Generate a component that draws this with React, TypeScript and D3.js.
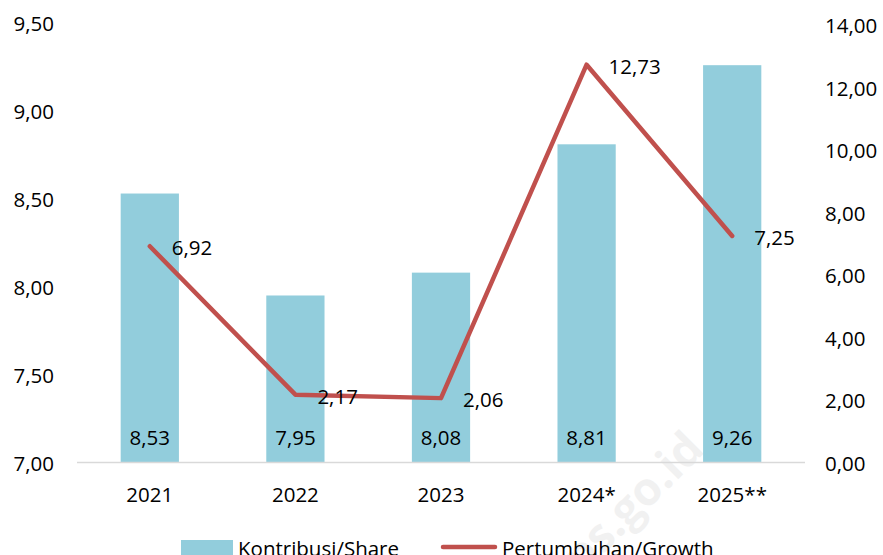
import React from "react";
import * as d3 from "d3";

const categories = ["2021", "2022", "2023", "2024*", "2025**"];
const shareValues = [8.53, 7.95, 8.08, 8.81, 9.26];
const growthValues = [6.92, 2.17, 2.06, 12.73, 7.25];
const leftTicks = [7.0, 7.5, 8.0, 8.5, 9.0, 9.5];
const rightTicks = [0, 2, 4, 6, 8, 10, 12, 14];
const seriesNames = ["Kontribusi/Share", "Pertumbuhan/Growth"];

const W = 883;
const H = 555;
const FONT = "'Open Sans', 'Noto Sans', sans-serif";
const BAR = "#92CDDC";
const LINE = "#C0504D";

const fmt = (v: number) => v.toFixed(2).replace(".", ",");

export default function App() {
  const x = d3.scaleBand<string>().domain(categories).range([77, 805]).paddingInner(0.6).paddingOuter(0.3);
  const yL = d3.scaleLinear().domain([7, 9.5]).range([462.5, 23]);
  const yR = d3.scaleLinear().domain([0, 14]).range([462.5, 25]);
  const cx = (c: string) => (x(c) ?? 0) + x.bandwidth() / 2;
  const line = d3
    .line<number>()
    .x((_, i) => cx(categories[i]))
    .y((d) => yR(d));

  return (
    <svg
      width={W}
      height={H}
      style={{ position: "absolute", left: 0, top: 0, display: "block", background: "#fff" }}
      fontFamily={FONT}
    >
      <rect x={0} y={0} width={W} height={H} fill="#fff" />
      {/* watermark */}
      <text
        transform="translate(625,515) rotate(-45)"
        textAnchor="middle"
        dominantBaseline="middle"
        fontSize={46}
        fontWeight="bold"
        fill="#000"
        opacity={0.05}
      >
        bps.go.id
      </text>
      {/* bars */}
      {categories.map((c, i) => (
        <rect
          key={c}
          x={x(c)}
          y={yL(shareValues[i])}
          width={x.bandwidth()}
          height={yL(7) - yL(shareValues[i])}
          fill={BAR}
        />
      ))}
      {/* axis line */}
      <line x1={77} x2={805} y1={yL(7)} y2={yL(7)} stroke="#d9d9d9" strokeWidth={1.5} />
      {/* left ticks */}
      {leftTicks.map((t) => (
        <text key={t} x={54} y={yL(t)} textAnchor="end" dominantBaseline="central" fontSize={20.5} fill="#000">
          {fmt(t)}
        </text>
      ))}
      {/* right ticks */}
      {rightTicks.map((t) => (
        <text key={t} x={825} y={yR(t)} textAnchor="start" dominantBaseline="central" fontSize={20.5} fill="#000">
          {fmt(t)}
        </text>
      ))}
      {/* category labels */}
      {categories.map((c) => (
        <text key={c} x={cx(c)} y={494} textAnchor="middle" dominantBaseline="central" fontSize={20.5} fill="#000">
          {c}
        </text>
      ))}
      {/* bar labels */}
      {categories.map((c, i) => (
        <text key={c} x={cx(c)} y={437} textAnchor="middle" dominantBaseline="central" fontSize={20.5} fill="#000">
          {fmt(shareValues[i])}
        </text>
      ))}
      {/* line */}
      <path d={line(growthValues) ?? ""} fill="none" stroke={LINE} strokeWidth={4.5} strokeLinejoin="round" strokeLinecap="round" />
      {/* line labels */}
      {categories.map((c, i) => (
        <text
          key={c}
          x={cx(c) + 22}
          y={yR(growthValues[i]) + 1}
          textAnchor="start"
          dominantBaseline="central"
          fontSize={20.5}
          fill="#000"
        >
          {fmt(growthValues[i])}
        </text>
      ))}
      {/* legend */}
      <rect x={181} y={540} width={52} height={15} fill={BAR} />
      <text x={238} y={548} dominantBaseline="central" fontSize={20.5} fill="#000">
        {seriesNames[0]}
      </text>
      <line x1={443} x2={495} y1={547} y2={547} stroke={LINE} strokeWidth={4.5} strokeLinecap="round" />
      <text x={502} y={548} dominantBaseline="central" fontSize={20.5} fill="#000">
        {seriesNames[1]}
      </text>
    </svg>
  );
}
